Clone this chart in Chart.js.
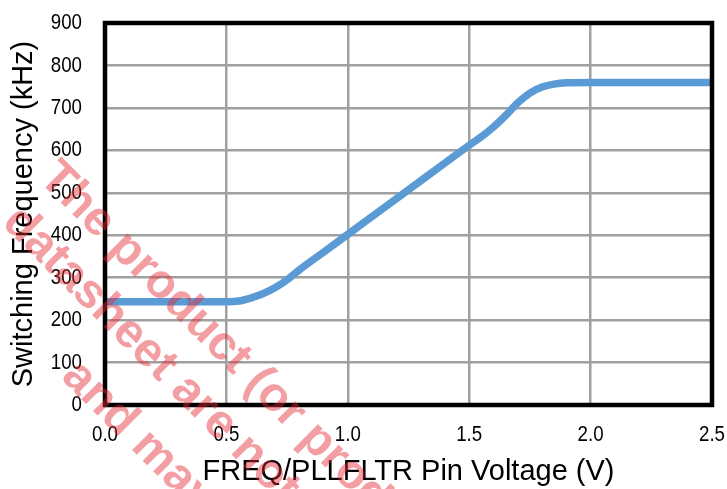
<!DOCTYPE html>
<html>
<head>
<meta charset="utf-8">
<script src="https://cdn.jsdelivr.net/npm/chart.js@4/dist/chart.umd.min.js"></script>
<style>
  html, body { margin: 0; padding: 0; background: #ffffff; }
  #wrap { position: relative; width: 727px; height: 489px; }
</style>
</head>
<body>
<div id="wrap"><canvas id="c" width="727" height="489"></canvas></div>
<script>
// ---- data ----
const voltage = [0, 0.3, 0.5, 0.55, 0.6, 0.65, 0.7, 0.75, 0.8, 0.9, 1.0, 1.1, 1.2, 1.3, 1.4, 1.5, 1.55, 1.6, 1.65, 1.7, 1.75, 1.8, 1.85, 1.9, 2.0, 2.25, 2.5];
const frequency = [243, 243, 243.5, 245, 252, 262, 276, 295, 318, 360, 402, 444, 486, 528, 570, 612, 632, 655, 682, 712, 735, 749, 756, 759, 760, 760, 760];
const xTickLabels = ['0.0', '0.5', '1.0', '1.5', '2.0', '2.5'];
const yTickLabels = ['0', '100', '200', '300', '400', '500', '600', '700', '800', '900'];
const xTitle = 'FREQ/PLLFLTR Pin Voltage (V)';
const yTitle = 'Switching Frequency (kHz)';
const watermarkLines = ['The product (or products)', 'datasheet are not', 'and may'];

const points = voltage.map((v, i) => ({ x: v, y: frequency[i] }));

const TICK_FONT = '22px "Liberation Sans", Arial, sans-serif';
const NARROW = 0.85;

function narrowText(ctx, text, x, y, align) {
  ctx.save();
  ctx.font = TICK_FONT;
  ctx.fillStyle = '#000000';
  ctx.textBaseline = 'middle';
  ctx.textAlign = align;
  ctx.translate(x, y);
  ctx.scale(NARROW, 1);
  ctx.fillText(text, 0, 0);
  ctx.restore();
}

const boxPlugin = {
  id: 'box',
  afterDatasetsDraw(chart) {
    const { ctx, chartArea: a } = chart;
    ctx.save();
    ctx.strokeStyle = '#000000';
    ctx.lineWidth = 4.5;
    ctx.lineJoin = 'miter';
    ctx.strokeRect(a.left, a.top, a.right - a.left, a.bottom - a.top);
    ctx.restore();
  }
};

// tick labels in a narrow face, placed through the chart's own scales
const tickLabelPlugin = {
  id: 'narrowTicks',
  afterDraw(chart) {
    const { ctx, chartArea: a, scales: { x, y } } = chart;
    x.ticks.forEach((t, i) => {
      narrowText(ctx, xTickLabels[i], x.getPixelForValue(t.value), a.bottom + 30, 'center');
    });
    y.ticks.forEach((t, i) => {
      narrowText(ctx, yTickLabels[i], a.left - 23, y.getPixelForValue(t.value), 'right');
    });
  }
};

const watermarkPlugin = {
  id: 'watermark',
  afterDraw(chart) {
    const { ctx } = chart;
    const starts = [[37.5, 179.5], [1, 224], [60, 378]];
    ctx.save();
    ctx.font = 'bold 48px "Liberation Sans", Arial, sans-serif';
    ctx.fillStyle = 'rgba(228, 40, 50, 0.45)';
    ctx.textAlign = 'left';
    ctx.textBaseline = 'alphabetic';
    watermarkLines.forEach((t, i) => {
      ctx.save();
      ctx.translate(starts[i][0], starts[i][1]);
      ctx.rotate(Math.PI / 4);
      ctx.fillText(t, 0, 0);
      ctx.restore();
    });
    ctx.restore();
  }
};

function fixX(s) { s.height = 84; s.paddingLeft = 0; s.paddingRight = 0; s.paddingTop = 0; s.paddingBottom = 0; }
function fixY(s) { s.width = 105; s.paddingLeft = 0; s.paddingRight = 0; s.paddingTop = 0; s.paddingBottom = 0; }

new Chart(document.getElementById('c'), {
  type: 'line',
  data: {
    datasets: [{
      data: points,
      borderColor: '#5B9BD5',
      borderWidth: 7.5,
      pointRadius: 0,
      fill: false,
      cubicInterpolationMode: 'monotone',
      borderCapStyle: 'butt'
    }]
  },
  options: {
    responsive: false,
    animation: false,
    devicePixelRatio: 1,
    layout: { padding: { top: 23, right: 15, left: 0, bottom: 0 } },
    plugins: { legend: { display: false }, tooltip: { enabled: false } },
    scales: {
      x: {
        type: 'linear',
        min: 0, max: 2.5,
        afterFit: fixX,
        border: { display: false },
        grid: { color: '#A0A0A0', lineWidth: 2.5, drawTicks: false },
        ticks: {
          display: false,
          stepSize: 0.5,
          callback: (v, i) => xTickLabels[i]
        },
        title: {
          display: true,
          text: xTitle,
          color: '#000000',
          font: { family: '"Liberation Sans", Arial, sans-serif', size: 29 },
          padding: { top: 0, bottom: 0 }
        }
      },
      y: {
        min: 0, max: 900,
        afterFit: fixY,
        border: { display: false },
        grid: { color: '#A0A0A0', lineWidth: 2.5, drawTicks: false },
        ticks: {
          display: false,
          stepSize: 100,
          callback: (v, i) => yTickLabels[i]
        },
        title: {
          display: true,
          text: yTitle,
          color: '#000000',
          font: { family: '"Liberation Sans", Arial, sans-serif', size: 29 },
          padding: { top: 7, bottom: 0 }
        }
      }
    }
  },
  plugins: [boxPlugin, tickLabelPlugin, watermarkPlugin]
});
</script>
</body>
</html>
